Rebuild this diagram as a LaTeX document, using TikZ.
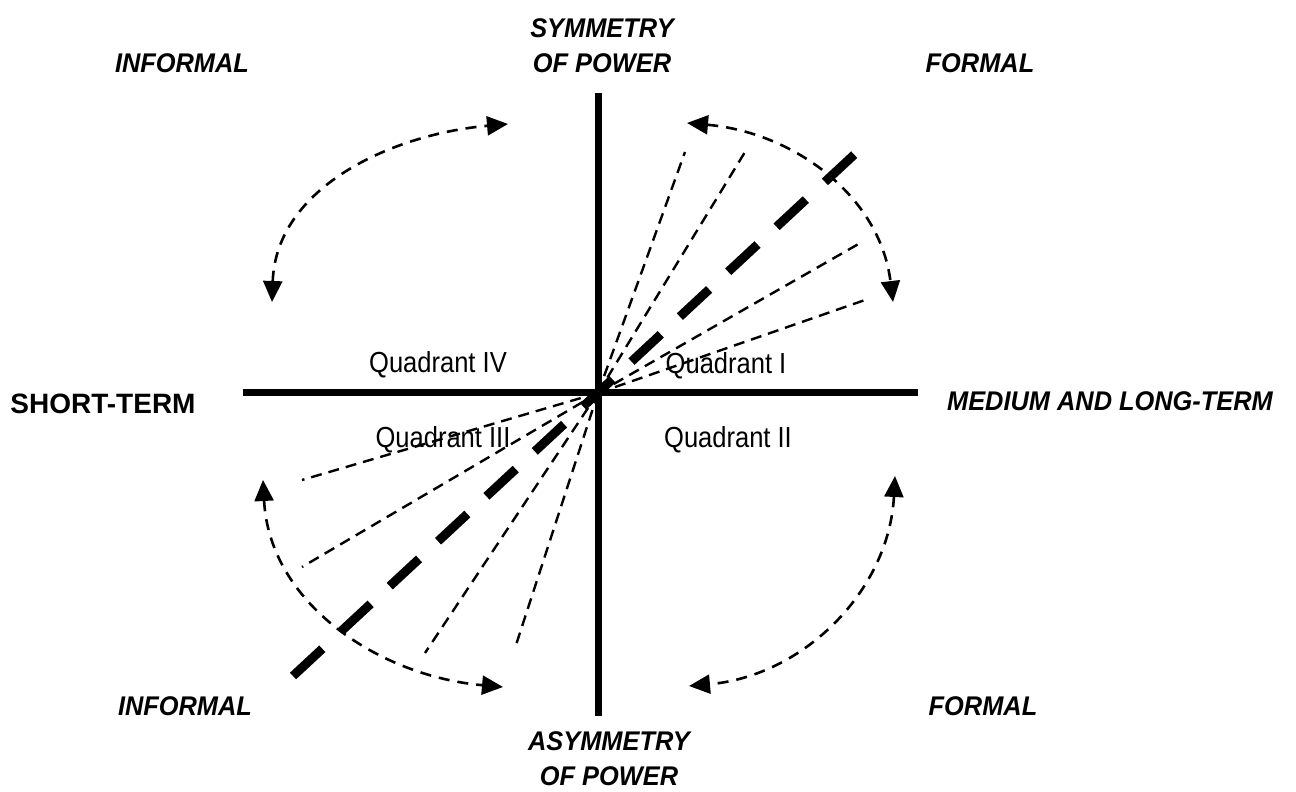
\documentclass[tikz,border=0pt]{standalone}
\usepackage{fontspec}
\setmainfont{Liberation Sans}
\newfontfamily\bifont[FakeStretch=0.94]{Liberation Sans}
\newfontfamily\qfont[FakeStretch=0.88]{Liberation Sans}
\usetikzlibrary{arrows.meta}
\begin{document}
\begin{tikzpicture}[x=1pt,y=1pt,
  axis/.style={line width=7pt},
  diag/.style={line width=9pt, dash pattern=on 40pt off 26pt},
  ray/.style={line width=2.4pt, dash pattern=on 11pt off 7pt},
  swing/.style={line width=2.6pt, dash pattern=on 11pt off 8pt,
    {Triangle[length=21pt,width=19pt]}-{Triangle[length=21pt,width=19pt]}},
  biglabel/.style={font=\bifont\bfseries\itshape\fontsize{27}{35}\selectfont, align=center, inner sep=0pt},
  plainlabel/.style={font=\bfseries\fontsize{28}{34}\selectfont, inner sep=0pt},
  quadlabel/.style={font=\qfont\fontsize{29}{34}\selectfont, inner sep=0pt}
]
\useasboundingbox (0,0) rectangle (1296,792);
\fill[white] (0,0) rectangle (1296,792);

% axes
\coordinate (O) at (598,399);
\coordinate (vT) at (598,699);
\coordinate (vB) at (598,76);
\coordinate (hL) at (243,399);
\coordinate (hR) at (918,399);
\draw[axis] (vB) -- (vT);
\draw[axis] (hL) -- (hR);

% rays
\coordinate (r1) at (685,640);
\coordinate (r2) at (745,640);
\coordinate (r3) at (862,550);
\coordinate (r4) at (865,492);
\coordinate (r5) at (302,312);
\coordinate (r6) at (302,225);
\coordinate (r7) at (425,139);
\coordinate (r8) at (515,144);
\foreach \r in {r1,r2,r3,r4,r5,r6,r7,r8} \draw[ray] (O) -- (\r);

% thick diagonal
\coordinate (dA) at (293,116);
\coordinate (dB) at (870,652);
\draw[diag] (dA) -- (dB);

% swinging arrows
\coordinate (tA) at (687,669);
\coordinate (tB) at (893,490);
\coordinate (tC) at (508,668);
\coordinate (tD) at (272,490);
\coordinate (tE) at (263,312);
\coordinate (tF) at (503,105);
\coordinate (tG) at (895,316);
\coordinate (tH) at (689,106);
\draw[swing] (tA) to[out=-5,in=97] (tB);
\draw[swing] (tD) to[out=88,in=185] (tC);
\draw[swing] (tE) to[out=-87,in=175] (tF);
\draw[swing] (tG) to[out=-93,in=5] (tH);

% labels
\node[biglabel] (infTL) at (182,729) {INFORMAL};
\node[biglabel] (forTR) at (980,729) {FORMAL};
\node[biglabel] (sym) at (602,746.5) {SYMMETRY\\OF POWER};
\node[plainlabel] (short) at (103,388) {SHORT-TERM};
\node[biglabel] (medlong) at (1110,391) {MEDIUM AND LONG-TERM};
\node[biglabel] (infBL) at (185,86) {INFORMAL};
\node[biglabel] (forBR) at (983,86) {FORMAL};
\node[biglabel] (asym) at (609,33.5) {ASYMMETRY\\OF POWER};

\node[quadlabel] (q4) at (438,427) {Quadrant IV};
\node[quadlabel] (q1) at (726,426) {Quadrant I};
\node[quadlabel] (q3) at (443,352) {Quadrant III};
\node[quadlabel] (q2) at (728,352) {Quadrant II};
\end{tikzpicture}
\end{document}
